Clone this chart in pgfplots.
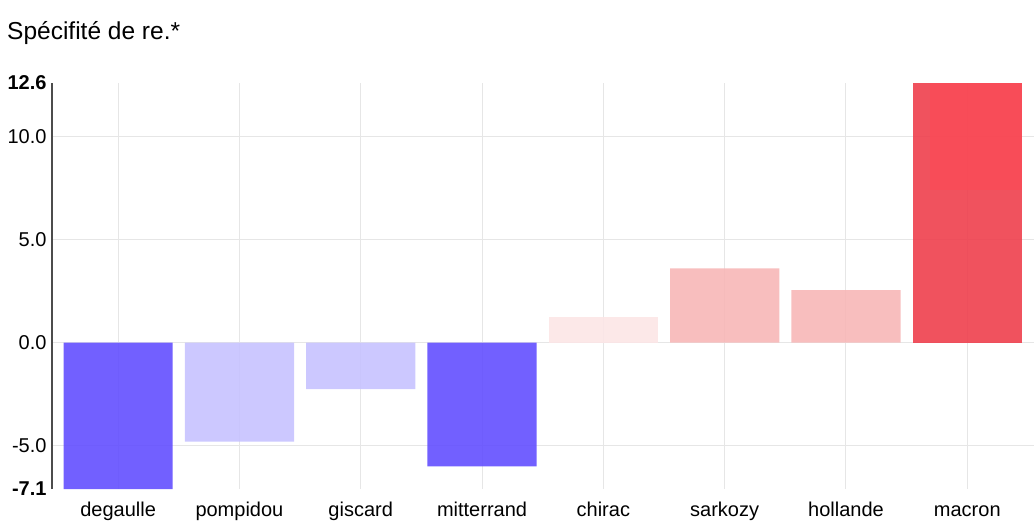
\documentclass[border=0pt]{standalone}
\usepackage{fontspec}
\setmainfont{Liberation Sans}
\usepackage{pgfplots}
\pgfplotsset{compat=1.18}
\definecolor{cblue}{RGB}{99,79,255}
\definecolor{clav}{RGB}{198,194,255}
\definecolor{cchirac}{RGB}{252,229,230}
\definecolor{cpink}{RGB}{247,183,183}
\definecolor{cmacron}{RGB}{238,63,77}
\definecolor{cover}{RGB}{255,73,84}
\definecolor{gridc}{RGB}{230,230,230}
\newcommand\f{\fontsize{20bp}{24bp}\selectfont}
\newcommand\ft{\fontsize{24.5bp}{28bp}\selectfont}
\begin{document}
\begin{tikzpicture}
\useasboundingbox (0,0) rectangle (1034bp,529bp);
\node[anchor=west,font=\ft,inner sep=0pt] at (7bp,496bp) {Spécifité de re.*};
\begin{axis}[
  at={(52bp,40bp)}, anchor=south west,
  scale only axis, width=982bp, height=406bp,
  xmin=-0.545, xmax=7.55, ymin=-7.1, ymax=12.6,
  xtick={0,1,2,3,4,5,6,7},
  xticklabels={degaulle,pompidou,giscard,mitterrand,chirac,sarkozy,hollande,macron},
  ytick={-5,0,5,10},
  yticklabels={-5.0,0.0,5.0,10.0},
  extra y ticks={-7.1,12.6},
  extra y tick labels={\textbf{-7.1},\textbf{12.6}},
  extra y tick style={grid=none},
  grid=major,
  major grid style={draw=gridc, line width=1pt},
  major tick length=0pt,
  axis x line*=bottom, axis y line*=left,
  x axis line style={draw=none},
  y axis line style={draw=black!70, line width=1.2pt, -},
  tick label style={font=\f},
  xticklabel style={text height=15bp, text depth=4bp, inner sep=0pt, yshift=-12bp},
  yticklabel style={xshift=-2bp},
  ybar, bar width=0.9, bar shift=0pt,
  every axis plot/.append style={draw=none, fill opacity=0.9},
  clip=false,
]
\addplot[fill=cblue] coordinates {(0,-7.1) (3,-6.0)};
\addplot[fill=clav] coordinates {(1,-4.8) (2,-2.25)};
\addplot[fill=cchirac] coordinates {(4,1.25)};
\addplot[fill=cpink] coordinates {(5,3.6) (6,2.55)};
\addplot[fill=cmacron] coordinates {(7,12.6)};
\addplot[fill=cover, fill opacity=0.6, sharp plot] coordinates {(6.69,7.4) (7.45,7.4) (7.45,12.6) (6.69,12.6)} -- cycle;
\end{axis}
\end{tikzpicture}
\end{document}
